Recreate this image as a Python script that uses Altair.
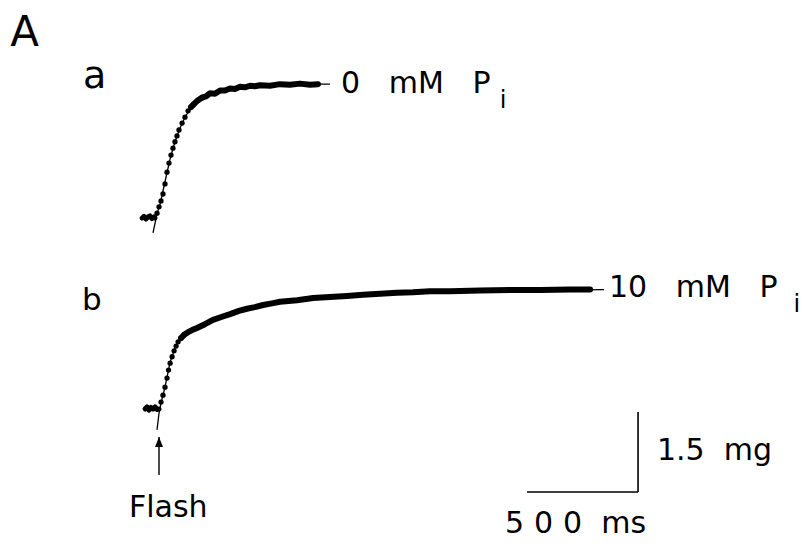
import altair as alt
import pandas as pd

# ---------------- data (ms after flash, mg above resting tension) ----------------
# trace a : 0 mM Pi
base_a_t = [-58, -50, -41, -32, -23, -14, -5, 0]
base_a_f = [0.0, 0.03, -0.02, 0.02, 0.04, -0.01, 0.02, 0.0]
rise_a_t = [9, 18, 27, 36, 45, 54, 63, 72, 81, 90, 99, 108, 122, 135, 149, 162, 176, 194, 212]
rise_a_f = [0.09, 0.21, 0.32, 0.45, 0.64, 0.86, 1.03, 1.18, 1.31, 1.43, 1.54, 1.65, 1.78, 1.89,
            2.01, 2.08, 2.14, 2.21, 2.25]
plat_a_t = [162, 176, 194, 212, 230, 248, 270, 293, 315, 338, 360, 383, 405, 428, 450, 473,
            518, 563, 608, 653, 698, 734]
plat_a_f = [2.08, 2.14, 2.21, 2.26, 2.28, 2.34, 2.33, 2.39, 2.39, 2.43, 2.42, 2.46, 2.45, 2.48,
            2.47, 2.49, 2.48, 2.51, 2.50, 2.52, 2.50, 2.51]
fit_a_t = [-9, 9, 23, 45, 68, 90, 113, 135, 158, 189, 225, 270, 338, 428, 563, 698, 788]
fit_a_f = [-0.28, 0.08, 0.26, 0.68, 1.11, 1.43, 1.69, 1.89, 2.04, 2.19, 2.29, 2.36, 2.42, 2.47,
           2.49, 2.51, 2.51]

# trace b : 10 mM Pi
base_b_t = [-63, -54, -45, -36, -27, -18, -9, 0]
base_b_f = [0.0, 0.04, -0.02, 0.03, 0.0, 0.04, -0.01, 0.0]
rise_b_t = [9, 18, 27, 36, 43, 50, 59, 68, 77, 86, 99, 113]
rise_b_f = [0.13, 0.26, 0.41, 0.58, 0.73, 0.86, 0.98, 1.09, 1.18, 1.26, 1.33, 1.39]
plat_b_t = [99, 113, 131, 149, 171, 207, 243, 284, 320, 360, 396, 432, 469, 509, 545, 622, 694,
            770, 847, 919, 996, 1072, 1144, 1221, 1311, 1446, 1581, 1716, 1852, 1942]
plat_b_f = [1.33, 1.39, 1.44, 1.48, 1.52, 1.59, 1.67, 1.73, 1.78, 1.84, 1.88, 1.91, 1.95, 1.98,
            2.01, 2.04, 2.08, 2.10, 2.12, 2.14, 2.16, 2.18, 2.19, 2.21, 2.21, 2.22, 2.23, 2.23,
            2.24, 2.24]
fit_b_t = [-9, 0, 9, 27, 50, 72, 95, 140, 185, 275, 410, 545, 770, 1086, 1536, 2005]
fit_b_f = [-0.39, -0.08, 0.11, 0.41, 0.88, 1.14, 1.31, 1.46, 1.58, 1.73, 1.88, 2.01, 2.10, 2.18,
           2.22, 2.24]

# scale bars
bar_ms = 500
bar_mg = 1.5

# ---------------- layout ----------------
W, H = 793, 533
PX_PER_MS = 111 / 500
PX_PER_MG = 80 / 1.5
XMAX = W / PX_PER_MS
YMAX = H / PX_PER_MG

A_X0, A_Y0 = 662.2, 6.056   # flash / baseline of trace a
B_X0, B_Y0 = 680.2, 2.475   # flash / baseline of trace b
SB_X0, SB_Y0 = 2338.0, 0.919

FONT = "DejaVu Sans"


def frame(t, f, x0, y0, trace):
    return pd.DataFrame({"x": [x0 + v for v in t], "y": [y0 + v for v in f], "trace": trace})


base_df = pd.concat([frame(base_a_t, base_a_f, A_X0, A_Y0, "a"),
                     frame(base_b_t, base_b_f, B_X0, B_Y0, "b")])
rise_df = pd.concat([frame(rise_a_t, rise_a_f, A_X0, A_Y0, "a"),
                     frame(rise_b_t, rise_b_f, B_X0, B_Y0, "b")])
plat_df = pd.concat([frame(plat_a_t, plat_a_f, A_X0, A_Y0, "a"),
                     frame(plat_b_t, plat_b_f, B_X0, B_Y0, "b")])
fit_df = pd.concat([frame(fit_a_t, fit_a_f, A_X0, A_Y0, "a"),
                    frame(fit_b_t, fit_b_f, B_X0, B_Y0, "b")])

bars_df = pd.DataFrame({
    "x": [SB_X0, SB_X0 + bar_ms],
    "x2": [SB_X0 + bar_ms, SB_X0 + bar_ms],
    "y": [SB_Y0, SB_Y0],
    "y2": [SB_Y0, SB_Y0 + bar_mg],
})

arrow_df = pd.DataFrame({"x": [B_X0], "y": [1.2375], "y2": [1.95]})

NB = "\u00a0"
labels_df = pd.DataFrame({
    "text": ["A", "a", "b",
             "0" + NB * 3 + "mM" + NB * 3 + "P", "i",
             "10" + NB * 3 + "mM" + NB * 3 + "P", "i",
             "1.5" + NB * 2 + "mg",
             "5\u20040\u20040" + NB * 2 + "ms",
             "Flash"],
    "x": [10, 338, 333, 1500, 2215, 2707, 3538, 2923, 2239, 545],
    "y": [9.28, 8.494, 4.331, 8.40, 8.119, 4.575, 4.294, 1.519, 0.15, 0.45],
    "size": [42, 38, 31, 30, 24, 30, 24, 30, 30, 30],
})

xs = alt.Scale(domain=[0, XMAX], nice=False, zero=False)
ys = alt.Scale(domain=[0, YMAX], nice=False, zero=False)
X = alt.X("x:Q", scale=xs, axis=None)
Y = alt.Y("y:Q", scale=ys, axis=None)

fit = alt.Chart(fit_df).mark_line(color="black", strokeWidth=1.3).encode(
    x=X, y=Y, detail="trace:N")
base = alt.Chart(base_df).mark_line(color="black", strokeWidth=5, strokeCap="round",
                                    strokeJoin="round").encode(x=X, y=Y, detail="trace:N")
band = alt.Chart(plat_df).mark_line(color="black", strokeWidth=6, strokeCap="round",
                                    strokeJoin="round").encode(x=X, y=Y, detail="trace:N")
dots = alt.Chart(rise_df).mark_circle(color="black", size=28, opacity=1).encode(x=X, y=Y)

bars = alt.Chart(bars_df).mark_rule(color="black", strokeWidth=1.6).encode(
    x=X, x2="x2:Q", y=Y, y2="y2:Q")

shaft = alt.Chart(arrow_df).mark_rule(color="black", strokeWidth=1.4).encode(
    x=X, y=Y, y2="y2:Q")
head = alt.Chart(arrow_df).mark_point(
    shape="M0,0L-0.4,1L0.4,1Z", size=400, filled=True, color="black", opacity=1
).encode(x=X, y=alt.Y("y2:Q", scale=ys, axis=None))

labels = alt.Chart(labels_df).mark_text(
    align="left", baseline="alphabetic", font=FONT, color="black"
).encode(x=X, y=Y, text="text:N", size=alt.Size("size:Q", scale=None))

chart = alt.layer(fit, base, band, dots, bars, shaft, head, labels).properties(
    width=W, height=H, padding=0, autosize="none", background="white"
).configure_view(strokeWidth=0)

chart.save("out.html", embed_options={"renderer": "svg", "actions": False})
